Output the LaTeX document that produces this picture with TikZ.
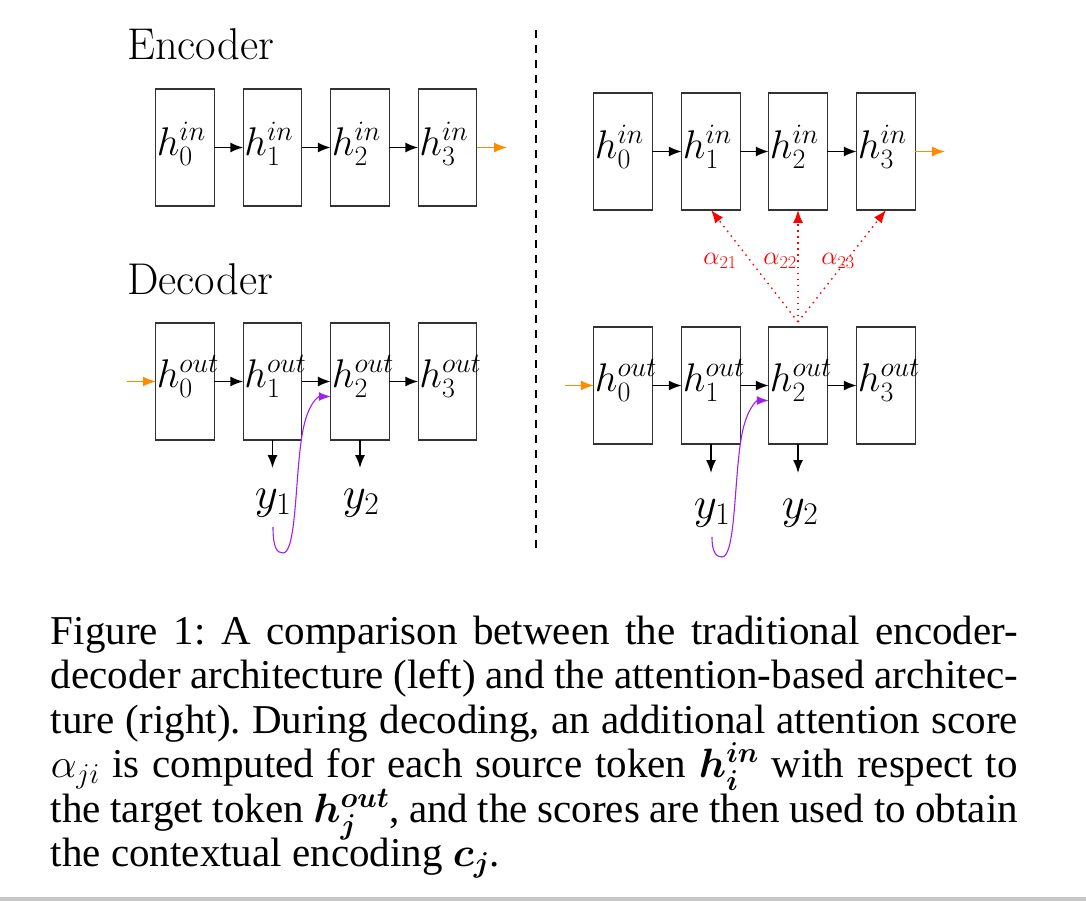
\RequirePackage{fix-cm}
\documentclass[tikz,border=0pt]{standalone}
\usepackage{amsmath}
\usepackage{fontspec}
\newfontfamily\capfont{Liberation Serif}
\usetikzlibrary{arrows.meta,calc}
\definecolor{myorange}{RGB}{255,140,0}
\definecolor{mypurple}{RGB}{160,32,240}
\frenchspacing
\begin{document}
\begin{tikzpicture}[x=1pt,y=-1pt,
  cell/.style={draw=black!80, line width=1.4pt, minimum width=58.5pt, minimum height=117pt, inner sep=0pt, outer sep=0pt},
  lab/.style={inner sep=0pt, anchor=base west, font=\fontsize{40}{48}\selectfont},
  ylab/.style={inner sep=0pt, anchor=base, font=\fontsize{45}{54}\selectfont},
  title/.style={inner sep=0pt, anchor=base west, font=\fontsize{44.5}{53}\selectfont},
  alab/.style={inner sep=0pt, anchor=base, text=red, font=\fontsize{26}{31}\selectfont},
  arr/.style={-{Latex[length=13pt,width=10pt]}, line width=1.6pt, black},
  oarr/.style={-{Latex[length=13pt,width=10pt]}, line width=1.3pt, myorange},
  parr/.style={-{Latex[length=12pt,width=9pt]}, line width=1.1pt, mypurple},
  rarr/.style={-{Latex[length=13pt,width=10pt]}, line width=1.4pt, red, dash pattern=on 1.5pt off 4.5pt},
  sep/.style={line width=1.3pt, black, dash pattern=on 8pt off 7pt},
  capl/.style={inner sep=0pt, anchor=base west, font=\capfont\fontsize{41}{44.5}\selectfont}
]
\useasboundingbox (0,0) rectangle (1086,901);

% ---------- left: traditional ----------
\node[title] (enc) at (127,60) {Encoder};
\node[title] (dec) at (127,294) {Decoder};

\node[cell] (le1) at (185,147.5) {};
\node[cell] (le2) at (272.5,147.5) {};
\node[cell] (le3) at (360,147.5) {};
\node[cell] (le4) at (447.5,147.5) {};
\node[lab] (lle1) at ($(le1.west)+(1,8)$) {$h_0^{in}$};
\node[lab] (lle2) at ($(le2.west)+(1,8)$) {$h_1^{in}$};
\node[lab] (lle3) at ($(le3.west)+(1,8)$) {$h_2^{in}$};
\node[lab] (lle4) at ($(le4.west)+(1,8)$) {$h_3^{in}$};
\draw[arr] (le1) -- (le2);
\draw[arr] (le2) -- (le3);
\draw[arr] (le3) -- (le4);
\coordinate (loe) at (507,147.5);
\draw[oarr] (le4) -- (loe);

\node[cell] (ld1) at (185,381.5) {};
\node[cell] (ld2) at (272.5,381.5) {};
\node[cell] (ld3) at (360,381.5) {};
\node[cell] (ld4) at (447.5,381.5) {};
\node[lab] (lld1) at ($(ld1.west)+(1,6)$) {$h_0^{out}$};
\node[lab] (lld2) at ($(ld2.west)+(1,6)$) {$h_1^{out}$};
\node[lab] (lld3) at ($(ld3.west)+(1,6)$) {$h_2^{out}$};
\node[lab] (lld4) at ($(ld4.west)+(1,6)$) {$h_3^{out}$};
\coordinate (lod) at (127,381.5);
\draw[oarr] (lod) -- (ld1);
\draw[arr] (ld1) -- (ld2);
\draw[arr] (ld2) -- (ld3);
\draw[arr] (ld3) -- (ld4);
\coordinate (ly1t) at (272.5,468);
\coordinate (ly2t) at (360,468);
\draw[arr] (ld2.south) -- (ly1t);
\draw[arr] (ld3.south) -- (ly2t);
\node[ylab] (ly1) at (273,508) {$y_1$};
\node[ylab] (ly2) at (361,508) {$y_2$};
\draw[parr] ($(ly1.south)+(0,10)$) .. controls (273,548) and (277,553) .. (283,553)
  .. controls (297,553) and (295,470) .. (303,430)
  .. controls (308,404) and (318,396.5) .. ($(ld3.west)+(0,15)$);

% separator
\coordinate (dtop) at (536,30);
\coordinate (dbot) at (536,548);
\draw[sep] (dtop) -- (dbot);

% ---------- right: attention ----------
\node[cell] (re1) at (623,151.5) {};
\node[cell] (re2) at (711,151.5) {};
\node[cell] (re3) at (798,151.5) {};
\node[cell] (re4) at (886,151.5) {};
\node[lab] (lre1) at ($(re1.west)+(1,7)$) {$h_0^{in}$};
\node[lab] (lre2) at ($(re2.west)+(1,7)$) {$h_1^{in}$};
\node[lab] (lre3) at ($(re3.west)+(1,7)$) {$h_2^{in}$};
\node[lab] (lre4) at ($(re4.west)+(1,7)$) {$h_3^{in}$};
\draw[arr] (re1) -- (re2);
\draw[arr] (re2) -- (re3);
\draw[arr] (re3) -- (re4);
\coordinate (roe) at (945,151.5);
\draw[oarr] (re4) -- (roe);

\node[cell] (rd1) at (623,385.5) {};
\node[cell] (rd2) at (711,385.5) {};
\node[cell] (rd3) at (798,385.5) {};
\node[cell] (rd4) at (886,385.5) {};
\node[lab] (lrd1) at ($(rd1.west)+(1,6)$) {$h_0^{out}$};
\node[lab] (lrd2) at ($(rd2.west)+(1,6)$) {$h_1^{out}$};
\node[lab] (lrd3) at ($(rd3.west)+(1,6)$) {$h_2^{out}$};
\node[lab] (lrd4) at ($(rd4.west)+(1,6)$) {$h_3^{out}$};
\coordinate (rod) at (565,385.5);
\draw[oarr] (rod) -- (rd1);
\draw[arr] (rd1) -- (rd2);
\draw[arr] (rd2) -- (rd3);
\draw[arr] (rd3) -- (rd4);
\coordinate (ry1t) at (711,473);
\coordinate (ry2t) at (798,473);
\draw[arr] (rd2.south) -- (ry1t);
\draw[arr] (rd3.south) -- (ry2t);
\node[ylab] (ry1) at (712,518) {$y_1$};
\node[ylab] (ry2) at (800,518) {$y_2$};
\draw[parr] ($(ry1.south)+(0,10)$) .. controls (712,552) and (716,557) .. (722,557)
  .. controls (736,557) and (734,474) .. (742,434)
  .. controls (747,408) and (757,400.5) .. ($(rd3.west)+(0,15)$);

% attention arrows
\coordinate (att) at ($(rd3.north)+(0,-5)$);
\draw[rarr] (att) -- (re2.south);
\draw[rarr] (att) -- (re3.south);
\draw[rarr] (att) -- (re4.south);
\node[alab] (a21) at (720,265) {$\alpha_{21}$};
\node[alab] (a22) at (780,265) {$\alpha_{22}$};
\node[alab] (a23) at (838,265) {$\alpha_{23}$};

% ---------- caption ----------
\node[capl] (cap1) at (50.7,644.3) {\makebox[967pt][s]{Figure 1: A comparison between the traditional encoder-}};
\node[capl] (cap2) at (50.7,688.8) {\makebox[967pt][s]{decoder architecture (left) and the attention-based architec-}};
\node[capl] (cap3) at (50.7,733.3) {\makebox[967pt][s]{ture (right). During decoding, an additional attention score}};
\node[capl] (cap4) at (50.7,777.8) {\makebox[967pt][s]{$\alpha_{ji}$ is computed for each source token $\boldsymbol{h_i^{in}}$ with respect to}};
\node[capl] (cap5) at (50.7,822.3) {\makebox[967pt][s]{the target token $\boldsymbol{h_j^{out}}$, and the scores are then used to obtain}};
\node[capl] (cap6) at (50.7,866.8) {the contextual encoding $\boldsymbol{c_j}$.};

\fill[gray!45] (0,897) rectangle (1086,901);
\end{tikzpicture}
\end{document}
